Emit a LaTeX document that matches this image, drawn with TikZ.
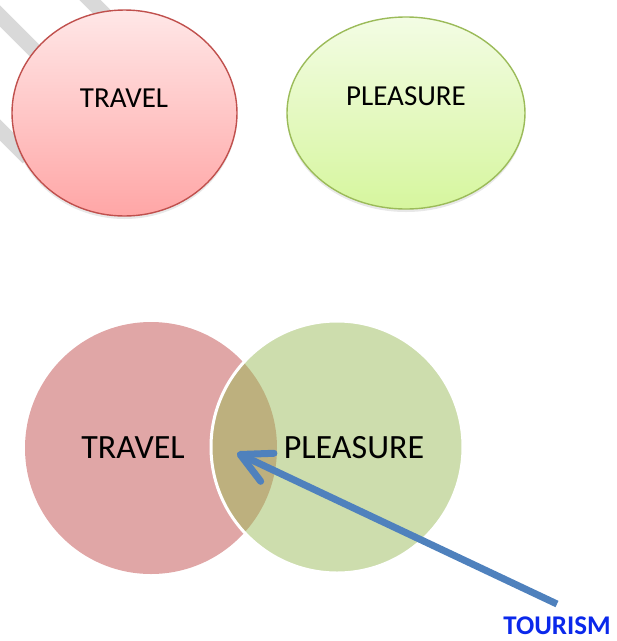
\documentclass[tikz,border=0pt]{standalone}
\usepackage{fontspec}
\setmainfont{Carlito}
\usepackage{xcolor}
\usepackage{tikz}
\usetikzlibrary{arrows.meta,shapes.geometric,shadows}
\definecolor{trvEdge}{RGB}{192,80,77}
\definecolor{trvTop}{RGB}{255,231,231}
\definecolor{trvBot}{RGB}{255,166,166}
\definecolor{plsEdge}{RGB}{155,187,89}
\definecolor{plsTop}{RGB}{243,252,228}
\definecolor{plsBot}{RGB}{214,246,158}
\definecolor{trvFill}{RGB}{224,166,166}
\definecolor{plsFill}{RGB}{205,221,173}
\definecolor{lensFill}{RGB}{189,176,126}
\definecolor{arrBlue}{RGB}{79,129,189}
\definecolor{tourBlue}{RGB}{10,40,235}

\begin{document}
\begin{tikzpicture}[x=1pt, y=-1pt, >={Straight Barb[round, length=30pt, width=31pt]}]
  \tikzset{oval/.style={ellipse, draw=#1, line width=1.4pt, inner sep=0pt,
                        drop shadow={opacity=0.18, shadow xshift=0pt, shadow yshift=-3pt}},
           big/.style={circle, inner sep=0pt, minimum size=252pt},
           lbl/.style={anchor=base, font=\fontsize{29}{30}\selectfont},
           lblB/.style={anchor=base, font=\fontsize{34}{36}\selectfont},
           stripe/.style={line width=15pt, black!15}}
  \useasboundingbox (0,0) rectangle (617,641);

  % background stripes behind the first oval
  \begin{scope}
    \clip (0,0) rectangle (617,641);
    \draw[stripe] (80,-10) -- (140,50);
    \draw[stripe] (-10,6) -- (60,76);
    \draw[stripe] (-10,120) -- (28,158);
  \end{scope}

  % the two separate ideas
  \node[oval=trvEdge, top color=trvTop, bottom color=trvBot,
        minimum width=225pt, minimum height=206pt] (travel) at (124.5,113) {};
  \node[oval=plsEdge, top color=plsTop, bottom color=plsBot,
        minimum width=238pt, minimum height=192pt] (pleasure) at (406,113) {};
  \node[lbl] (travelTxt) at (124,107) {TRAVEL};
  \node[lbl] (pleasureTxt) at (406,105) {PLEASURE};

  % the overlap
  \node[big, fill=trvFill] (travelB) at (151,448) {};
  \node[big, fill=plsFill] (pleasureB) at (337,447) {};
  \begin{scope}
    \clip (151,448) circle[radius=126];
    \fill[lensFill] (337,447) circle[radius=126];
  \end{scope}
  \draw[white, line width=3pt] (337,447) circle[radius=126];
  \node[lblB] (travelBTxt) at (133,458) {TRAVEL};
  \node[lblB] (pleasureBTxt) at (354,458) {PLEASURE};

  \node[anchor=base, inner sep=0pt, text=tourBlue, font=\bfseries\fontsize{27}{28}\selectfont]
       (tourism) at (557,634) {TOURISM};
  \coordinate (tail) at (557,604);
  \coordinate (tip) at (237,453);
  \draw[->, arrBlue, line width=7pt] (tail) -- (tip);
\end{tikzpicture}
\end{document}
